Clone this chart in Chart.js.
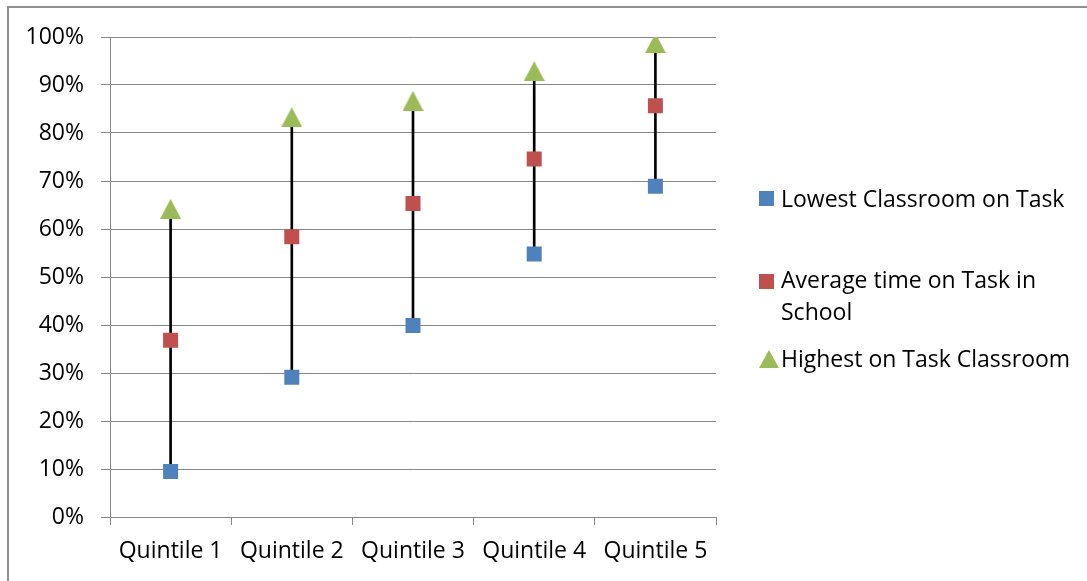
<!DOCTYPE html>
<html>
<head>
<meta charset="utf-8">
<script src="https://cdn.jsdelivr.net/npm/chart.js@4/dist/chart.umd.min.js"></script>
<style>
  html, body { margin: 0; padding: 0; background: #ffffff; }
  #wrap { position: relative; width: 1087px; height: 581px; overflow: hidden; }
  #frame { position: absolute; left: 7px; top: 6px; width: 1200px; height: 700px;
           border-left: 2px solid #8f8f8f; border-top: 2px solid #8f8f8f; }
  #chart { position: absolute; left: 0; top: 0; }
  #legend { position: absolute; left: 759px; top: 0; font-family: "Open Sans", sans-serif;
            font-size: 23px; color: #000; }
  .item { position: absolute; left: 0; white-space: nowrap; }
  .item .txt { position: absolute; left: 22px; top: 0; line-height: 32px; }
  .mk { position: absolute; left: 0; }
  .sq { width: 15px; height: 15px; }
  .tri { width: 0; height: 0; border-left: 10px solid transparent; border-right: 10px solid transparent;
         border-bottom: 18px solid #9BBB59; }
</style>
</head>
<body>
<div id="wrap">
  <div id="frame"></div>
  <canvas id="chart" width="1087" height="581"></canvas>
  <div id="legend"></div>
</div>
<script>
const categories = ["Quintile 1", "Quintile 2", "Quintile 3", "Quintile 4", "Quintile 5"];
const lowest  = [0.095, 0.291, 0.399, 0.548, 0.689];
const average = [0.368, 0.584, 0.653, 0.746, 0.857];
const highest = [0.642, 0.833, 0.867, 0.929, 0.987];
const seriesNames = ["Lowest Classroom on Task", "Average time on Task in School", "Highest on Task Classroom"];
const yTicks = [0, 0.1, 0.2, 0.3, 0.4, 0.5, 0.6, 0.7, 0.8, 0.9, 1.0];

const FONT = "Open Sans";
const FSIZE = 23;
const blue = "#4F81BD", red = "#C0504D", green = "#9BBB59";
const gridColor = "#878787";

// triangle marker image, centred on its bounding box like Excel
function triangleMarker(w, h, color) {
  const c = document.createElement("canvas");
  c.width = w; c.height = h;
  const g = c.getContext("2d");
  g.fillStyle = color;
  g.beginPath();
  g.moveTo(w / 2, 0);
  g.lineTo(w, h);
  g.lineTo(0, h);
  g.closePath();
  g.fill();
  return c;
}
const tri = triangleMarker(21, 20, green);

const hiLo = categories.map((c, i) => [lowest[i], highest[i]]);

new Chart(document.getElementById("chart"), {
  type: "line",
  data: {
    labels: categories,
    datasets: [
      { type: "line", label: seriesNames[0], data: lowest, showLine: false,
        pointStyle: "rect", pointRadius: 10.6, pointHoverRadius: 10.6,
        pointBackgroundColor: blue, pointBorderWidth: 0, borderColor: blue, order: 1 },
      { type: "line", label: seriesNames[1], data: average, showLine: false,
        pointStyle: "rect", pointRadius: 10.6, pointHoverRadius: 10.6,
        pointBackgroundColor: red, pointBorderWidth: 0, borderColor: red, order: 1 },
      { type: "line", label: seriesNames[2], data: highest, showLine: false,
        pointStyle: tri, pointRadius: 10, pointBorderWidth: 0, borderColor: green, order: 1 },
      { type: "bar", label: "High-Low", data: hiLo, backgroundColor: "#000000",
        barThickness: 2, borderWidth: 0, order: 5, borderSkipped: false }
    ]
  },
  options: {
    responsive: false,
    animation: false,
    events: [],
    layout: { padding: { left: 0, top: 37, right: 371, bottom: 0 } },
    plugins: { legend: { display: false }, tooltip: { enabled: false } },
    scales: {
      x: {
        type: "category",
        offset: true,
        grid: { offset: true, drawOnChartArea: false, drawTicks: true, tickLength: 8,
                color: gridColor, lineWidth: 1 },
        border: { display: true, color: gridColor, width: 1 },
        ticks: { color: "#000", font: { family: FONT, size: FSIZE }, padding: 13, maxRotation: 0 },
        afterFit: s => { s.height = 64; }
      },
      y: {
        min: 0, max: 1,
        afterBuildTicks: s => { s.ticks = yTicks.map(v => ({ value: v })); },
        grid: { color: gridColor, lineWidth: 1, tickLength: 9, drawTicks: true },
        border: { display: true, color: gridColor, width: 1 },
        ticks: { color: "#000", font: { family: FONT, size: FSIZE }, padding: 17,
                 callback: v => Math.round(v * 100) + "%" },
        afterFit: s => { s.width = 110; }
      }
    }
  }
});

// HTML legend
const legend = document.getElementById("legend");
const legendItems = [
  { name: seriesNames[0], kind: "sq", color: blue, top: 182, mkTop: 191 },
  { name: seriesNames[1], kind: "sq", color: red, top: 263, mkTop: 274 },
  { name: seriesNames[2], kind: "tri", color: green, top: 342, mkTop: 350 }
];
legendItems.forEach(it => {
  const d = document.createElement("div");
  d.className = "item";
  d.style.top = it.top + "px";
  const m = document.createElement("div");
  m.className = "mk " + it.kind;
  m.style.top = (it.mkTop - it.top) + "px";
  if (it.kind === "sq") m.style.background = it.color;
  const t = document.createElement("div");
  t.className = "txt";
  if (it.name === "Average time on Task in School") {
    t.innerHTML = "Average time on Task in<br>School";
  } else {
    t.textContent = it.name;
  }
  d.appendChild(m); d.appendChild(t);
  legend.appendChild(d);
});
</script>
</body>
</html>
